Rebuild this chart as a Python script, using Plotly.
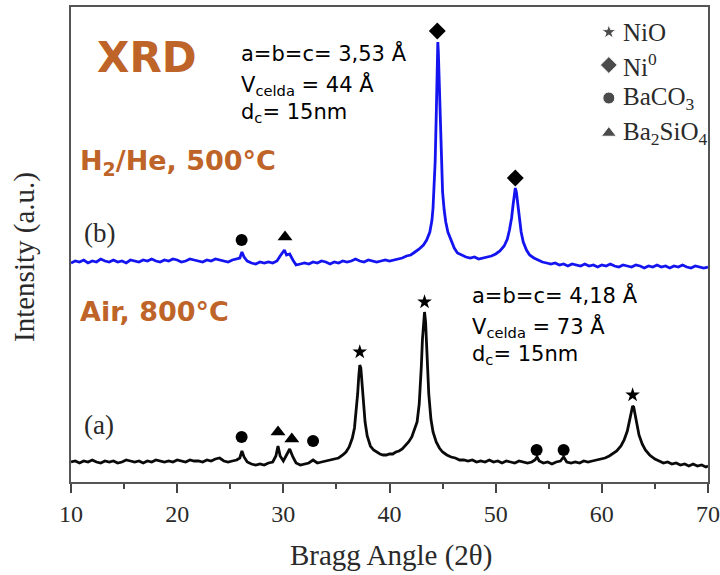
import plotly.graph_objects as go

# ---------------- data ----------------
# (a) Air, 800 C  -- black pattern
xa = [10.0,10.4,10.8,11.2,11.6,12.0,12.4,12.8,13.2,13.6,14.0,14.4,14.8,15.2,15.6,16.0,16.4,16.8,17.2,17.6,
      18.0,18.4,18.8,19.2,19.6,20.0,20.4,20.8,21.2,21.6,22.0,22.4,22.8,23.2,23.6,24.0,24.4,24.8,25.2,25.6,
      25.9,26.1,26.3,26.6,27.0,27.4,27.8,28.2,28.6,29.0,29.3,29.5,29.7,30.0,30.3,30.6,30.9,31.2,31.6,32.0,
      32.4,32.8,33.2,33.6,34.0,34.4,34.8,35.2,35.6,35.9,36.2,36.5,36.7,36.9,37.0,37.1,37.2,37.3,37.4,37.5,
      37.7,37.9,38.2,38.5,38.8,39.1,39.4,39.7,40.0,40.3,40.6,40.9,41.2,41.5,41.8,42.1,42.4,42.6,42.8,42.9,
      43.0,43.1,43.2,43.3,43.4,43.5,43.6,43.7,43.9,44.1,44.4,44.7,45.0,45.4,45.8,46.2,46.6,
      47.0,47.4,47.8,48.2,48.6,49.0,49.4,49.8,50.2,50.6,51.0,51.4,51.8,52.2,52.6,53.0,53.4,53.7,53.9,54.1,
      54.5,54.9,55.3,55.7,56.1,56.4,56.7,57.1,57.5,57.9,58.3,58.7,59.1,59.5,59.9,60.3,60.7,61.0,61.4,61.8,
      62.1,62.4,62.6,62.8,62.9,63.0,63.1,63.3,63.5,63.8,64.1,64.5,65.0,65.4,65.8,66.2,66.6,67.0,67.4,67.8,
      68.2,68.6,69.0,69.4,69.8,70.0]
ya = [20,21,19,21,20,22,20,19,21,20,21,19,20,22,21,20,21,19,21,20,
      22,21,20,21,20,22,21,20,22,21,21,20,22,21,23,24,21,20,21,22,
      24,31,25,20,18,17,18,17,19,20,26,36,26,21,27,33,25,19,17,18,
      19,22,19,20,21,22,23,24,27,30,35,44,54,73,88,105,117,114,100,84,
      60,46,36,32,30,28,27,27,28,28,30,31,33,36,40,45,53,60,78,94,
      116,142,163,170,160,135,110,88,63,50,40,34,30,27,25,24,22,
      22,21,22,20,21,20,22,20,21,19,21,20,19,21,20,19,20,22,25,21,
      19,20,18,20,21,25,20,19,20,19,21,20,21,22,23,24,26,28,31,36,
      42,51,60,71,76,75,69,57,47,38,32,27,23,21,19,20,18,19,17,18,
      16,18,16,17,15,16]

# (b) H2/He, 500 C  -- blue pattern
xb = [10.0,10.4,10.8,11.2,11.6,12.0,12.4,12.8,13.2,13.6,14.0,14.4,14.8,15.2,15.6,16.0,16.4,16.8,17.2,17.6,
      18.0,18.4,18.8,19.2,19.6,20.0,20.4,20.8,21.2,21.6,22.0,22.4,22.8,23.2,23.6,24.0,24.4,24.8,25.2,25.6,
      25.9,26.1,26.3,26.6,27.0,27.4,27.8,28.2,28.6,29.0,29.4,29.7,29.9,30.1,30.3,30.6,30.9,31.2,31.6,32.0,
      32.4,32.8,33.2,33.6,34.0,34.4,34.8,35.2,35.6,36.0,36.4,36.8,37.2,37.6,38.0,38.4,38.8,39.2,39.6,40.0,
      40.4,40.8,41.2,41.6,42.0,42.4,42.8,43.2,43.5,43.8,44.0,44.1,44.2,44.3,44.4,44.5,44.55,44.6,44.7,44.8,
      44.9,45.0,45.15,45.3,45.5,45.8,46.1,46.4,46.8,47.2,47.6,48.0,48.4,48.8,49.2,49.6,50.0,50.4,50.8,51.1,
      51.3,51.5,51.65,51.75,51.85,51.95,52.05,52.2,52.4,52.6,52.9,53.2,53.6,54.0,54.4,54.8,55.2,55.6,56.0,56.4,
      56.8,57.2,57.6,58.0,58.4,58.8,59.2,59.6,60.0,60.4,60.8,61.2,61.6,62.0,62.4,62.8,63.2,63.6,64.0,64.4,
      64.8,65.2,65.6,66.0,66.4,66.8,67.2,67.6,68.0,68.4,68.8,69.2,69.6,70.0]
yb = [219,221,220,222,219,221,220,223,221,220,222,220,221,219,222,221,220,222,221,223,
      221,220,222,221,223,222,220,221,223,222,221,220,222,221,223,222,221,220,222,223,
      224,230,225,221,219,218,220,219,220,219,221,226,229,232,227,228,222,217,218,219,
      218,220,219,221,220,218,220,219,221,220,221,223,221,220,222,221,220,221,222,221,
      222,223,224,226,227,230,233,237,242,250,262,274,292,320,365,425,440,430,390,345,
      310,290,272,260,250,241,234,229,227,225,224,225,223,224,225,226,228,231,236,243,
      252,264,278,288,294,290,280,265,250,240,232,227,224,222,220,219,218,219,217,218,
      216,218,217,216,218,216,217,215,217,216,218,216,215,217,216,215,217,216,214,216,
      215,217,215,216,214,216,215,217,215,214,216,215,214,215]

# phase markers above peaks: (x, intensity)
nio_x = [37.2, 43.3, 62.9]
nio_y = [130, 180, 87]
ni_x = [44.5, 51.85]
ni_y = [451, 304]
baco3_x = [26.07, 26.07, 32.8, 53.86, 56.4]
baco3_y = [242, 45, 41, 32, 32]
ba2sio4_x = [30.16, 29.5, 30.8]
ba2sio4_y = [245, 50, 43]

legend_labels = ["NiO", "Ni<sup>0</sup>", "BaCO<sub>3</sub>", "Ba<sub>2</sub>SiO<sub>4</sub>"]
legend_y = [450, 417, 384, 349]
legend_x = 60.66

x_ticks = [10, 20, 30, 40, 50, 60, 70]

ORANGE = "#BE6428"
GREY = "#2a2a2a"
SERIF = "Liberation Serif, Times New Roman, serif"
SANS = "DejaVu Sans, Verdana, sans-serif"

fig = go.Figure()
fig.add_trace(go.Scatter(x=xb, y=yb, mode="lines", line=dict(color="#1414F0", width=2.8),
                         showlegend=False, hoverinfo="skip"))
fig.add_trace(go.Scatter(x=xa, y=ya, mode="lines", line=dict(color="#0a0a0a", width=2.8),
                         showlegend=False, hoverinfo="skip"))

fig.add_trace(go.Scatter(x=nio_x, y=nio_y, mode="markers",
                         marker=dict(symbol="star", size=11, color="black"), showlegend=False))
fig.add_trace(go.Scatter(x=ni_x, y=ni_y, mode="markers",
                         marker=dict(symbol="diamond", size=13, color="black"), showlegend=False))
fig.add_trace(go.Scatter(x=baco3_x, y=baco3_y, mode="markers",
                         marker=dict(symbol="circle", size=12, color="black"), showlegend=False))
fig.add_trace(go.Scatter(x=ba2sio4_x, y=ba2sio4_y, mode="markers",
                         marker=dict(symbol="triangle-up", size=13, color="black"), showlegend=False))

# legend symbols
leg_syms = ["star", "diamond", "circle", "triangle-up"]
leg_sizes = [11, 13, 12, 13]
fig.add_trace(go.Scatter(x=[legend_x] * 4, y=legend_y, mode="markers",
                         marker=dict(symbol=leg_syms, size=leg_sizes, color="black"), showlegend=False))

ann = []
for lab, yy in zip(legend_labels, legend_y):
    ann.append(dict(x=61.8, y=yy, xref="x", yref="y", text=lab, showarrow=False,
                    xanchor="left", yanchor="middle", font=dict(family=SERIF, size=25, color=GREY)))

def txt(x, y, t, font):
    ann.append(dict(x=x, y=y, xref="x", yref="y", text=t, showarrow=False,
                    xanchor="left", yanchor="middle", font=font))

f_lab = dict(family=SANS, size=21, color="black")
f_or = dict(family=SANS, size=27, color=ORANGE)
txt(12.3, 425, "<b>XRD</b>", dict(family=SANS, size=42, color=ORANGE))
txt(25.8, 429, "a=b=c= 3,53 Å", f_lab)
txt(25.8, 397, "V<sub>celda</sub> = 44 Å", f_lab)
txt(25.8, 369, "d<sub>c</sub>= 15nm", f_lab)
txt(10.7, 320, "<b>H<sub>2</sub>/He, 500°C</b>", f_or)
txt(10.7, 171, "<b>Air, 800°C</b>", f_or)
txt(11.0, 249, "(b)", dict(family=SERIF, size=27, color=GREY))
txt(11.0, 57, "(a)", dict(family=SERIF, size=27, color=GREY))
txt(47.6, 187, "a=b=c= 4,18 Å", f_lab)
txt(47.6, 155, "V<sub>celda</sub> = 73 Å", f_lab)
txt(47.6, 127, "d<sub>c</sub>= 15nm", f_lab)

# axis titles
ann.append(dict(x=-0.072, y=0.474, xref="paper", yref="paper", text="Intensity (a.u.)",
                textangle=-90, showarrow=False, xanchor="center", yanchor="middle",
                font=dict(family=SERIF, size=29, color=GREY)))
ann.append(dict(x=0.503, y=-0.154, xref="paper", yref="paper", text="Bragg Angle (2θ)",
                showarrow=False, xanchor="center", yanchor="middle",
                font=dict(family=SERIF, size=29, color=GREY)))

fig.update_layout(
    width=720, height=575,
    margin=dict(l=71, r=12, t=7, b=93, autoexpand=False),
    paper_bgcolor="white", plot_bgcolor="white",
    annotations=ann,
    xaxis=dict(range=[10, 70], tickvals=x_ticks, ticks="outside", ticklen=9, tickwidth=2,
               tickcolor="#444", showline=True, linecolor="#555", linewidth=2, mirror=True,
               showgrid=False, zeroline=False, automargin=False,
               tickfont=dict(family=SERIF, size=24, color=GREY),
               minor=dict(dtick=5, tick0=5, ticks="outside", ticklen=5, tickwidth=2, tickcolor="#444",
                          showgrid=False)),
    yaxis=dict(range=[0, 475], showticklabels=False, ticks="", showline=True, linecolor="#555",
               linewidth=2, mirror=True, showgrid=False, zeroline=False, automargin=False),
)

fig.write_html("out.html")
